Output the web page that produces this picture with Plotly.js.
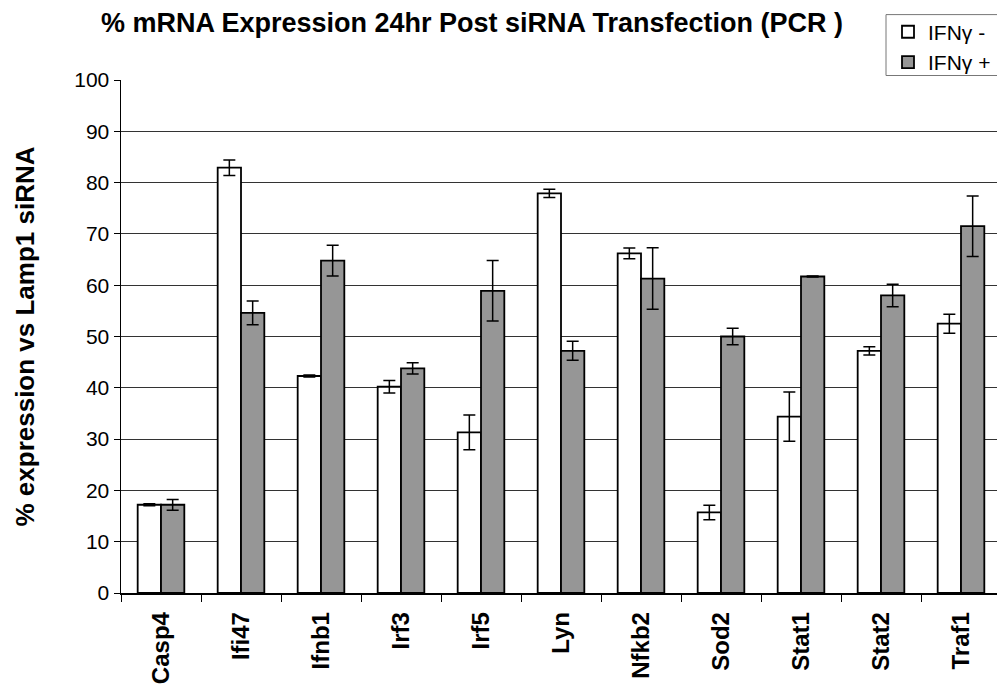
<!DOCTYPE html>
<html>
<head>
<meta charset="utf-8">
<script src="https://cdn.plot.ly/plotly-3.0.1.min.js"></script>
<style>
html, body { margin: 0; padding: 0; overflow: hidden; background: #fff; }
#chart { width: 1010px; height: 691px; }
</style>
</head>
<body>
<div id="chart"></div>
<script>
const categories = ["Casp4", "Ifi47", "Ifnb1", "Irf3", "Irf5", "Lyn", "Nfkb2", "Sod2", "Stat1", "Stat2", "Traf1"];
const ifnMinus = [17.2, 82.9, 42.3, 40.2, 31.3, 77.9, 66.2, 15.7, 34.4, 47.2, 52.5];
const ifnMinusErr = [0.2, 1.5, 0.2, 1.2, 3.4, 0.8, 1.05, 1.4, 4.8, 0.8, 1.85];
const ifnPlus = [17.2, 54.6, 64.8, 43.8, 58.9, 47.2, 61.3, 50.0, 61.7, 58.0, 71.5];
const ifnPlusErr = [1.05, 2.3, 3.0, 1.1, 5.9, 1.85, 6.0, 1.6, 0.1, 2.2, 5.9];
const seriesNames = ["IFNγ -", "IFNγ +"];
const yTicks = [0, 10, 20, 30, 40, 50, 60, 70, 80, 90, 100];

const font = "Liberation Sans, Arial, sans-serif";

// plot area geometry (px) used for paper-coordinate conversion
const PL = 121, PW = 880, PB = 593.3, PH = 513.8;
const px2x = (p) => (p - PL) / PW;
const px2y = (p) => (PB - p) / PH;

const traces = [
  {
    type: "bar", name: seriesNames[0], x: categories, y: ifnMinus,
    marker: { color: "#ffffff", line: { color: "#000000", width: 1.8 } },
    error_y: { type: "data", array: ifnMinusErr, visible: true, color: "#000000", thickness: 1.5, width: 6 }
  },
  {
    type: "bar", name: seriesNames[1], x: categories, y: ifnPlus,
    marker: { color: "#969696", line: { color: "#000000", width: 1.8 } },
    error_y: { type: "data", array: ifnPlusErr, visible: true, color: "#000000", thickness: 1.5, width: 6 }
  }
];

const layout = {
  width: 1010, height: 691,
  margin: { l: PL, r: 1010 - PL - PW, t: PB - PH, b: 691 - PB, pad: 0 },
  paper_bgcolor: "#ffffff", plot_bgcolor: "#ffffff",
  barmode: "group", bargap: 0.417, bargroupgap: 0,
  showlegend: true,
  title: {
    text: "<b>% mRNA Expression 24hr Post siRNA Transfection (PCR )</b>",
    font: { family: font, size: 27, color: "#000000" },
    x: 472 / 1010, xref: "container", xanchor: "center",
    y: 1 - 23 / 691, yref: "container", yanchor: "middle"
  },
  xaxis: {
    type: "category",
    tickson: "boundaries",
    ticks: "outside", ticklen: 7, tickcolor: "#000000", tickwidth: 1,
    showline: true, linecolor: "#000000", linewidth: 1.5,
    showgrid: false,
    tickangle: -90,
    ticklabelstandoff: 8,
    tickfont: { family: font, size: 24, color: "#000000", weight: "bold" }
  },
  yaxis: {
    range: [0, 100],
    tickvals: yTicks,
    ticks: "outside", ticklen: 6, tickcolor: "#000000", tickwidth: 1,
    showline: true, linecolor: "#000000", linewidth: 1.5,
    showgrid: true, gridcolor: "#333333", gridwidth: 1,
    zeroline: false,
    tickfont: { family: font, size: 21, color: "#000000" },
    title: {
      text: "<b>% expression vs Lamp1 siRNA</b>",
      font: { family: font, size: 26, color: "#000000" },
      standoff: 32
    }
  },
  legend: {
    x: px2x(888), xanchor: "left",
    y: px2y(11), yanchor: "top",
    bgcolor: "rgba(0,0,0,0)", borderwidth: 0,
    font: { family: font, size: 21, color: "#000000" },
    tracegroupgap: 0,
    itemwidth: 30
  },
  shapes: [
    {
      type: "rect", xref: "paper", yref: "paper",
      x0: px2x(886), x1: px2x(1040), y0: px2y(75), y1: px2y(14),
      line: { color: "#777777", width: 1 }, fillcolor: "rgba(0,0,0,0)", layer: "above"
    }
  ]
};

Plotly.newPlot("chart", traces, layout, { displayModeBar: false, staticPlot: true });
</script>
</body>
</html>
